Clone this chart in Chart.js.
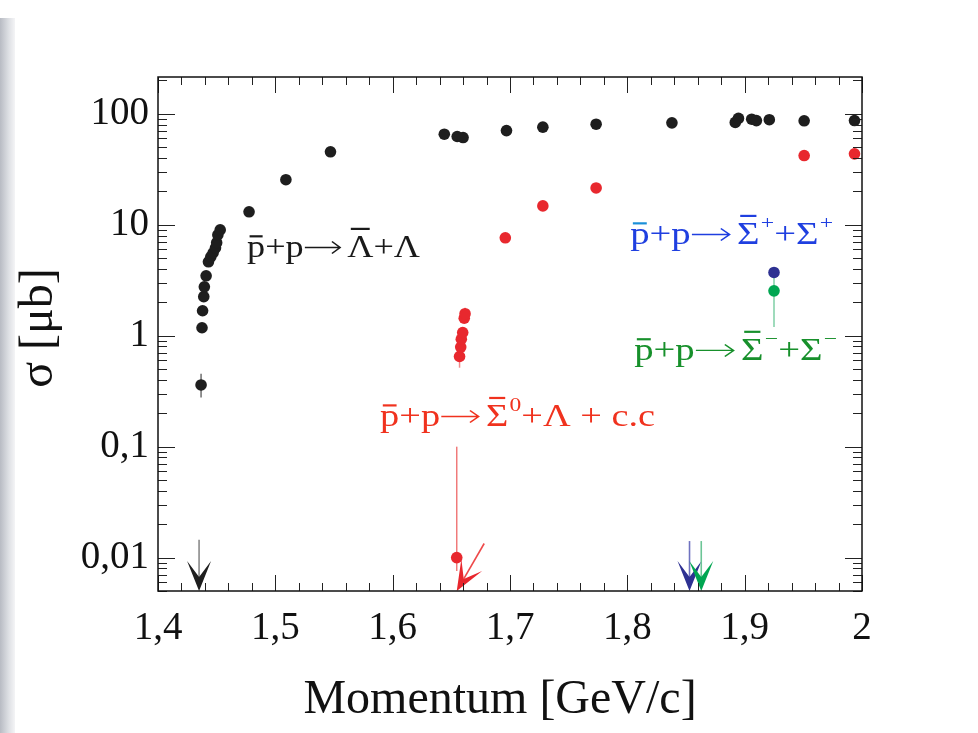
<!DOCTYPE html>
<html>
<head>
<meta charset="utf-8">
<script src="https://cdn.jsdelivr.net/npm/chart.js@4.4.1/dist/chart.umd.min.js"></script>
<style>
    html, body { margin: 0; padding: 0; background: #fff; }
    #wrap { position: relative; width: 978px; height: 733px; overflow: hidden; }
    #strip { position: absolute; left: 0; top: 18px; width: 15px; height: 715px;
             background: linear-gradient(to right, #b8bbc3, #dfe1e5 60%, #f4f4f6); }
    canvas { position: absolute; left: 0; top: 0; }
</style>
</head>
<body>
<div id="wrap">
    <div id="strip"></div>
    <canvas id="xsecChart" width="978" height="733"></canvas>
</div>
<script>
// pbar p -> Lambdabar Lambda
const lambdaX = [1.4367, 1.4375, 1.438, 1.439, 1.4395, 1.441, 1.443, 1.445, 1.447, 1.449, 1.450, 1.451, 1.453,
                 1.4776, 1.509, 1.547, 1.644, 1.655, 1.660, 1.697, 1.728, 1.7734, 1.838, 1.892, 1.8947,
                 1.906, 1.910, 1.921, 1.9507, 1.9936];
const lambdaY = [0.36, 1.18, 1.68, 2.25, 2.76, 3.47, 4.64, 5.15, 5.6, 6.2, 6.9, 8.1, 9.0,
                 13.1, 25.5, 45.5, 65.6, 62.5, 61.2, 70.7, 75.9, 80.7, 83, 83.8, 91,
                 89.5, 87, 88.6, 86.6, 87.1];
const lambdaErrLo = [0.277];
const lambdaErrHi = [0.455];

// pbar p -> Sigma0bar Lambda + c.c.
const sigma0X = [1.6546, 1.657, 1.658, 1.6585, 1.6597, 1.661, 1.6617, 1.696, 1.728, 1.7734, 1.9507, 1.9936];
const sigma0Y = [0.01, 0.65, 0.79, 0.93, 1.07, 1.44, 1.58, 7.64, 14.8, 21.5, 42.1, 43.6];
const sigma0ErrLo = [null, 0.515, null, null, null, null, null];
const sigma0ErrHi = [null, null, null, null, null, null, 1.79];

// pbar p -> Sigma+bar Sigma+ and Sigma-bar Sigma-
const sigmaPlusX = [1.925];
const sigmaPlusY = [3.72];
const sigmaMinusX = [1.925];
const sigmaMinusY = [2.54];
const sigmaMinusErrLo = [1.2];
const sigmaMinusErrHi = [3.72];

// thresholds (arrows) : tip on the axis, tail above
const arrowTipX = [1.435, 1.6546, 1.853, 1.863];
const arrowTailX = [1.435, 1.678, 1.853, 1.863];
const arrowTailY = [0.0145, 0.0134, 0.0141, 0.0141];
const thresholdLineX = [1.6546];
const thresholdLineTop = [0.1];

// axes
const yTickValues = [0.01, 0.1, 1, 10, 100];
const yTickLabels = ['0,01', '0,1', '1', '10', '100'];
const xTickStep = 0.1;

// styling (kept apart from the data)
const arrowStyle = [
    { head: '#1e1e1e', shaft: '#8a8a8a' },
    { head: '#e8262d', shaft: '#ee4a4a' },
    { head: '#2e3192', shaft: '#6f72c0' },
    { head: '#00a651', shaft: '#6cc596' }
];
const SERIF = '"Liberation Serif", "Times New Roman", serif';

const labels = [
    { x: 1.4759, y: 5.15, width: 173, color: '#1a1a1a',
      parts: [{ t: 'p', bar: true }, { t: '+' }, { t: 'p' }, { arrow: true }, { t: 'Λ', bar: true }, { t: '+' }, { t: 'Λ' }] },
    { x: 1.5893, y: 0.154, width: 275, color: '#f0321e',
      parts: [{ t: 'p', bar: true }, { t: '+' }, { t: 'p' }, { arrow: true }, { t: 'Σ', bar: true, sup: '0' }, { t: '+' }, { t: 'Λ' }, { t: ' + c.c' }] },
    { x: 1.8024, y: 6.74, width: 203, color: '#1f3fe0', barColor: '#1a8fd8',
      parts: [{ t: 'p', bar: true }, { t: '+' }, { t: 'p' }, { arrow: true }, { t: 'Σ', bar: true, sup: '+' }, { t: '+' }, { t: 'Σ', sup: '+' }] },
    { x: 1.8058, y: 0.608, width: 203, color: '#17902b',
      parts: [{ t: 'p', bar: true }, { t: '+' }, { t: 'p' }, { arrow: true }, { t: 'Σ', bar: true, sup: '−' }, { t: '+' }, { t: 'Σ', sup: '−' }] }
];

function pts(xs, ys) {
    return xs.map((x, i) => ({ x: x, y: ys[i] }));
}

function drawFormula(ctx, lab, px, py) {
    const size = 31;
    const arrowW = size * 1.2;
    const font = size + 'px ' + SERIF;
    const supFont = Math.round(size * 0.62) + 'px ' + SERIF;
    let natural = 0;
    lab.parts.forEach(p => {
        if (p.arrow) { natural += arrowW; return; }
        ctx.font = font;
        natural += ctx.measureText(p.t).width;
        if (p.sup) { ctx.font = supFont; natural += ctx.measureText(p.sup).width + 1; }
    });
    const sx = lab.width / natural;

    ctx.save();
    ctx.translate(px, py);
    ctx.scale(sx, 1);
    ctx.fillStyle = lab.color;
    ctx.strokeStyle = lab.color;
    ctx.textBaseline = 'alphabetic';
    ctx.textAlign = 'left';
    let cx = 0;
    lab.parts.forEach(p => {
        if (p.arrow) {
            const ay = -size * 0.3;
            ctx.lineWidth = 1.4;
            ctx.beginPath();
            ctx.moveTo(cx + 1, ay);
            ctx.lineTo(cx + arrowW - 6, ay);
            ctx.moveTo(cx + arrowW - 13, ay - 6);
            ctx.lineTo(cx + arrowW - 6, ay);
            ctx.lineTo(cx + arrowW - 13, ay + 6);
            ctx.stroke();
            cx += arrowW;
            return;
        }
        ctx.font = font;
        const w = ctx.measureText(p.t).width;
        ctx.fillText(p.t, cx, 0);
        if (p.bar) {
            const isCap = p.t !== 'p';
            const by = isCap ? -size * 0.9 : -size * 0.66;
            ctx.save();
            ctx.strokeStyle = (!isCap && lab.barColor) ? lab.barColor : lab.color;
            ctx.lineWidth = 2.2;
            ctx.beginPath();
            ctx.moveTo(cx + w * 0.14, by);
            ctx.lineTo(cx + w * 0.86, by);
            ctx.stroke();
            ctx.restore();
        }
        cx += w;
        if (p.sup) {
            ctx.font = supFont;
            ctx.fillText(p.sup, cx + 1, -size * 0.48);
            cx += ctx.measureText(p.sup).width + 1;
        }
    });
    ctx.restore();
}

const decorPlugin = {
    id: 'decor',
    beforeDatasetsDraw(chart) {
        const { ctx, scales: { x, y }, chartArea: a } = chart;
        ctx.save();
        // threshold line of Sigma0 Lambda
        ctx.strokeStyle = '#f07a7a';
        ctx.lineWidth = 1.5;
        thresholdLineX.forEach((tx, i) => {
            ctx.beginPath();
            ctx.moveTo(x.getPixelForValue(tx), y.getPixelForValue(thresholdLineTop[i]));
            ctx.lineTo(x.getPixelForValue(tx), a.bottom - 20);
            ctx.stroke();
        });
        // error bars
        const errBar = (xs, ys, lo, hi, color) => {
            ctx.strokeStyle = color;
            ctx.lineWidth = 1.5;
            xs.forEach((vx, i) => {
                if (i >= lo.length) return;
                const l = lo[i] != null ? lo[i] : ys[i];
                const h = hi[i] != null ? hi[i] : ys[i];
                if (l === h) return;
                const p = x.getPixelForValue(vx);
                ctx.beginPath();
                ctx.moveTo(p, y.getPixelForValue(l));
                ctx.lineTo(p, y.getPixelForValue(h));
                ctx.stroke();
            });
        };
        errBar(lambdaX, lambdaY, lambdaErrLo, lambdaErrHi, '#6e6e6e');
        errBar(sigma0X, sigma0Y, sigma0ErrLo, sigma0ErrHi, '#f08a8a');
        errBar(sigmaMinusX, sigmaMinusY, sigmaMinusErrLo, sigmaMinusErrHi, '#7fcfa6');
        ctx.restore();
    },
    afterDatasetsDraw(chart) {
        const { ctx, scales: { x, y }, chartArea: a } = chart;
        ctx.save();
        // arrows
        arrowTipX.forEach((tx, i) => {
            const st = arrowStyle[i];
            const tipX = x.getPixelForValue(tx), tipY = a.bottom;
            const tailX = x.getPixelForValue(arrowTailX[i]), tailY = y.getPixelForValue(arrowTailY[i]);
            const len = Math.hypot(tipX - tailX, tipY - tailY);
            const ux = (tipX - tailX) / len, uy = (tipY - tailY) / len;
            const hl = 30, hw = 12, notch = 14;
            const bx = tipX - ux * hl, by = tipY - uy * hl;
            const nx = tipX - ux * notch, ny = tipY - uy * notch;
            ctx.strokeStyle = st.shaft;
            ctx.lineWidth = 1.6;
            ctx.beginPath();
            ctx.moveTo(tailX, tailY);
            ctx.lineTo(nx, ny);
            ctx.stroke();
            ctx.fillStyle = st.head;
            ctx.beginPath();
            ctx.moveTo(tipX, tipY);
            ctx.lineTo(bx - uy * hw, by + ux * hw);
            ctx.lineTo(nx, ny);
            ctx.lineTo(bx + uy * hw, by - ux * hw);
            ctx.closePath();
            ctx.fill();
        });
        // reaction labels
        labels.forEach(lab => drawFormula(ctx, lab, x.getPixelForValue(lab.x), y.getPixelForValue(lab.y)));
        ctx.restore();
    },
    afterDraw(chart) {
        const { ctx, scales: { x, y }, chartArea: a } = chart;
        ctx.save();
        ctx.strokeStyle = '#222';
        ctx.lineWidth = 1;
        ctx.beginPath();
        // x ticks, bottom and top
        for (let i = 0; i <= 30; i++) {
            const v = x.min + i * xTickStep / 5;
            const p = Math.round(x.getPixelForValue(v)) + 0.5;
            const len = i % 5 === 0 ? 16 : 8;
            ctx.moveTo(p, a.bottom); ctx.lineTo(p, a.bottom - len);
            ctx.moveTo(p, a.top); ctx.lineTo(p, a.top + len);
        }
        // y ticks, left and right
        for (let e = -3; e <= 2; e++) {
            for (let k = 1; k <= 9; k++) {
                const v = k * Math.pow(10, e);
                if (v < y.min || v > y.max) continue;
                const p = Math.round(y.getPixelForValue(v)) + 0.5;
                const len = k === 1 ? 17 : 9;
                ctx.moveTo(a.left, p); ctx.lineTo(a.left + len, p);
                ctx.moveTo(a.right, p); ctx.lineTo(a.right - len, p);
            }
        }
        ctx.stroke();
        // frame
        ctx.strokeStyle = '#111';
        ctx.lineWidth = 1.5;
        ctx.strokeRect(a.left, a.top, a.right - a.left, a.bottom - a.top);
        // axis titles
        ctx.fillStyle = '#111';
        ctx.font = '48px ' + SERIF;
        ctx.textAlign = 'center';
        ctx.textBaseline = 'alphabetic';
        ctx.fillText('Momentum [GeV/c]', 500, 713);
        ctx.translate(52, 328);
        ctx.rotate(-Math.PI / 2);
        ctx.fillText('σ [μb]', 0, 0);
        ctx.restore();
    }
};

const pointOpts = { pointRadius: 5.8, pointHoverRadius: 5.8, borderWidth: 0 };

new Chart(document.getElementById('xsecChart'), {
    type: 'scatter',
    data: {
        datasets: [
            Object.assign({ label: 'Lambda', data: pts(lambdaX, lambdaY), backgroundColor: '#1e1e1e' }, pointOpts),
            Object.assign({ label: 'Sigma0', data: pts(sigma0X, sigma0Y), backgroundColor: '#e8282e' }, pointOpts),
            Object.assign({ label: 'SigmaPlus', data: pts(sigmaPlusX, sigmaPlusY), backgroundColor: '#2e3192' }, pointOpts),
            Object.assign({ label: 'SigmaMinus', data: pts(sigmaMinusX, sigmaMinusY), backgroundColor: '#00a651' }, pointOpts)
        ]
    },
    options: {
        responsive: false,
        animation: false,
        layout: { padding: { left: 0, top: 77, right: 116, bottom: 0 } },
        plugins: { legend: { display: false }, tooltip: { enabled: false } },
        scales: {
            x: {
                type: 'linear', min: 1.4, max: 2.0,
                afterFit(s) { s.height = 142; },
                grid: { display: false, drawTicks: false },
                border: { display: false },
                ticks: {
                    stepSize: xTickStep, maxRotation: 0, padding: 14, color: '#111',
                    font: { family: SERIF, size: 39 },
                    callback: v => String(Math.round(v * 10) / 10).replace('.', ',')
                }
            },
            y: {
                type: 'logarithmic', min: 0.005, max: 215,
                afterFit(s) { s.width = 158; },
                afterBuildTicks(s) { s.ticks = yTickValues.map(v => ({ value: v })); },
                grid: { display: false, drawTicks: false },
                border: { display: false },
                ticks: {
                    padding: 9, color: '#111',
                    font: { family: SERIF, size: 39 },
                    callback: v => {
                        const i = yTickValues.findIndex(t => Math.abs(t - v) / t < 1e-6);
                        return i >= 0 ? yTickLabels[i] : '';
                    }
                }
            }
        }
    },
    plugins: [decorPlugin]
});
</script>
</body>
</html>
